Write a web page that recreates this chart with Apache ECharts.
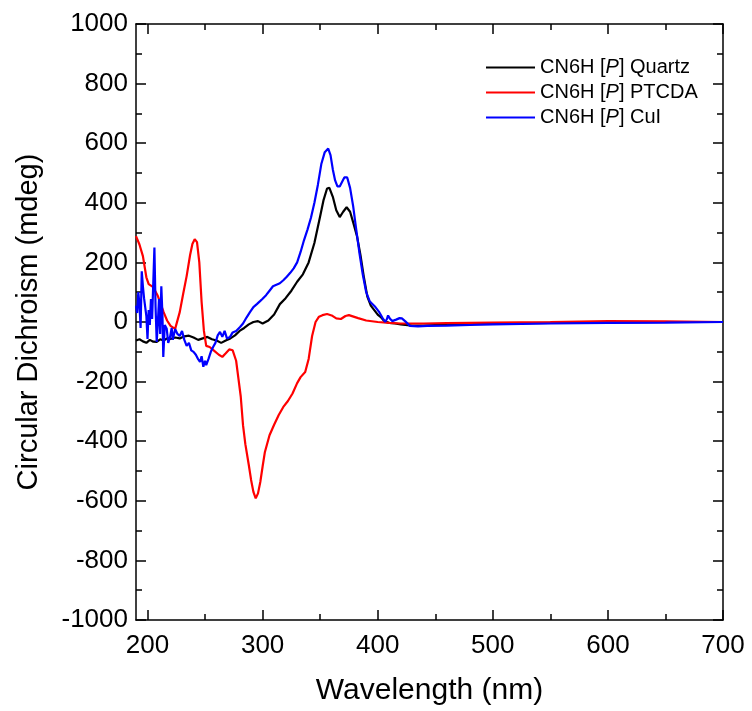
<!DOCTYPE html>
<html>
<head>
<meta charset="utf-8">
<script src="https://cdn.jsdelivr.net/npm/echarts@6/dist/echarts.min.js"></script>
<style>html,body{margin:0;padding:0;background:#fff;}#c{width:752px;height:711px;}</style>
</head>
<body>
<div id="c"></div>
<script>
// ---- data ----
const seriesNames = ['CN6H [P] Quartz', 'CN6H [P] PTCDA', 'CN6H [P] CuI'];
const xMajorTicks = [200, 300, 400, 500, 600, 700];
const xMinorTicks = [250, 350, 450, 550, 650];

const quartzWl = [190,193,196,199,202,205,208,211,214,217,220,224,228,232,236,240,244,248,252,256,260,264,268,272,276,280,284,288,292,296,300,305,310,315,320,325,330,335,340,345,350,353,356,358,361,364,367,370,373,376,379,382,385,388,391,394,397,400,403,406,410,415,420,430,440,450,470,500,550,600,650,700];
const quartzCd = [-62,-58,-65,-70,-60,-66,-67,-58,-62,-55,-57,-52,-55,-48,-46,-52,-60,-55,-50,-58,-62,-70,-62,-55,-45,-30,-20,-8,0,3,-5,5,25,60,80,105,135,160,200,265,355,410,448,450,420,375,352,370,385,370,330,288,225,150,85,55,40,25,15,2,-3,-5,-8,-12,-12,-10,-8,-5,-3,-1,0,0];

const ptcdaWl = [190,193,196,199,201,205,209,212,214,217,220,224,228,231,234,237,239,241,243,245,247,249,251,254,258,262,265,268,271,274,277,279,281,283,285,288,290,292,294,296,298,300,302,306,310,314,318,322,326,330,333,337,340,343,346,349,352,356,360,364,368,372,375,379,383,390,400,410,420,440,460,500,550,600,650,700];
const ptcdaCd = [288,260,221,150,127,117,87,55,33,5,-13,-23,33,95,154,225,262,278,268,200,67,-30,-80,-84,-97,-110,-117,-105,-92,-95,-130,-190,-250,-347,-410,-480,-530,-570,-592,-575,-537,-485,-436,-380,-345,-312,-285,-265,-240,-205,-185,-168,-124,-47,0,18,23,27,22,12,10,20,23,18,13,5,0,-3,-5,-5,-4,-2,0,3,2,0];

const cuiWl = [190,191,192,193,194,195,196,197,198,199,200,201,202,203,204,205,206,207,208,209,210,211,212,213,213.7,215,216.7,218,219.6,221,222,224,226,228,230,232,234,236,238,240,242,244,245.6,247,248.5,250,251,253,255,257,259,261,263,265,267,269,271.7,274,277,280.4,283,286,289,292,295,297.8,300,303,306,309,312,315,318,321,324,327,330,333,336,339,342,345,348,351,354,357,359,361,363,365,367,369,371,373.5,376,378.7,381,384,387,390,393,396,398,401,404,406.5,408,409,410.5,412.6,416,419,421,424,428,435,443,460,480,500,550,600,650,700];
const cuiCd = [55,30,100,60,-20,170,120,80,77,20,-57,40,-10,77,10,130,250,50,-67,0,77,-40,120,20,-117,-10,-23,-70,-50,-20,-60,-23,-40,-47,-30,-60,-80,-70,-95,-100,-110,-125,-134,-115,-150,-130,-145,-124,-100,-84,-70,-45,-33,-50,-30,-55,-50,-35,-30,-17,-5,15,33,50,60,70,78,90,105,120,125,130,140,152,165,180,200,235,275,310,350,400,460,530,570,582,560,512,475,455,455,470,485,485,450,388,320,235,160,100,70,58,50,35,15,0,10,22,12,3,8,13,12,2,-13,-15,-13,-12,-10,-8,-5,-3,-2,0];

const zip = (a, b) => a.map((v, i) => [v, b[i]]);
const FONT = "'Liberation Sans', Arial, sans-serif";
const colors = ['#000000', '#ff0000', '#0000ff'];

const chart = echarts.init(document.getElementById('c'), null, {renderer: 'canvas'});
const lineStyleAxis = {color: '#000', width: 1.5};
const baseX = {type: 'value', min: 190, max: 700, splitLine: {show: false}};
chart.setOption({
  animation: false,
  backgroundColor: '#fff',
  grid: {left: 136, right: 29, top: 24, bottom: 90},
  legend: {
    orient: 'vertical',
    left: 481, top: 50,
    itemWidth: 49, itemHeight: 2, itemGap: 0,
    icon: 'rect',
    data: seriesNames,
    formatter: n => n.replace('[P]', '[{i|P}]'),
    textStyle: {fontFamily: FONT, fontSize: 20, color: '#000', lineHeight: 25,
      rich: {i: {fontFamily: FONT, fontSize: 20, fontStyle: 'italic', color: '#000', lineHeight: 25}}}
  },
  xAxis: [
    Object.assign({}, baseX, {
      position: 'bottom',
      axisLine: {show: true, onZero: false, lineStyle: lineStyleAxis},
      axisTick: {show: true, inside: true, length: 10, customValues: xMajorTicks, lineStyle: lineStyleAxis},
      axisLabel: {show: true, customValues: xMajorTicks, fontFamily: FONT, fontSize: 26, color: '#000', margin: 13,
        formatter: v => String(v)},
      name: 'Wavelength (nm)', nameLocation: 'middle', nameGap: 56,
      nameTextStyle: {fontFamily: FONT, fontSize: 30, color: '#000'}
    }),
    Object.assign({}, baseX, {
      position: 'bottom',
      axisLine: {show: false, onZero: false},
      axisTick: {show: true, inside: true, length: 6, customValues: xMinorTicks, lineStyle: lineStyleAxis},
      axisLabel: {show: false}
    }),
    Object.assign({}, baseX, {
      position: 'top',
      axisLine: {show: true, onZero: false, lineStyle: lineStyleAxis},
      axisTick: {show: true, inside: true, length: 10, customValues: xMajorTicks, lineStyle: lineStyleAxis},
      axisLabel: {show: false}
    }),
    Object.assign({}, baseX, {
      position: 'top',
      axisLine: {show: false, onZero: false},
      axisTick: {show: true, inside: true, length: 6, customValues: xMinorTicks, lineStyle: lineStyleAxis},
      axisLabel: {show: false}
    })
  ],
  yAxis: [
    {
      type: 'value', position: 'left', min: -1000, max: 1000, interval: 200,
      splitLine: {show: false},
      axisLine: {show: true, onZero: false, lineStyle: lineStyleAxis},
      axisTick: {show: true, inside: true, length: 10, lineStyle: lineStyleAxis},
      minorTick: {show: true, splitNumber: 2, length: 6, lineStyle: lineStyleAxis},
      axisLabel: {fontFamily: FONT, fontSize: 26, color: '#000', margin: 8, formatter: v => String(v)},
      name: 'Circular Dichroism (mdeg)', nameLocation: 'middle', nameGap: 93, nameRotate: 90,
      nameTextStyle: {fontFamily: FONT, fontSize: 29, color: '#000'}
    },
    {
      type: 'value', position: 'right', min: -1000, max: 1000, interval: 200,
      splitLine: {show: false},
      axisLine: {show: true, onZero: false, lineStyle: lineStyleAxis},
      axisTick: {show: true, inside: true, length: 10, lineStyle: lineStyleAxis},
      minorTick: {show: true, splitNumber: 2, length: 6, lineStyle: lineStyleAxis},
      axisLabel: {show: false}
    }
  ],
  series: [
    {name: seriesNames[0], type: 'line', xAxisIndex: 0, yAxisIndex: 0, showSymbol: false, symbol: 'none',
     color: colors[0], lineStyle: {width: 2.2, color: colors[0]}, data: zip(quartzWl, quartzCd)},
    {name: seriesNames[1], type: 'line', xAxisIndex: 0, yAxisIndex: 0, showSymbol: false, symbol: 'none',
     color: colors[1], lineStyle: {width: 2.2, color: colors[1]}, data: zip(ptcdaWl, ptcdaCd)},
    {name: seriesNames[2], type: 'line', xAxisIndex: 0, yAxisIndex: 0, showSymbol: false, symbol: 'none',
     color: colors[2], lineStyle: {width: 2.2, color: colors[2]}, data: zip(cuiWl, cuiCd)}
  ]
});
</script>
</body>
</html>
